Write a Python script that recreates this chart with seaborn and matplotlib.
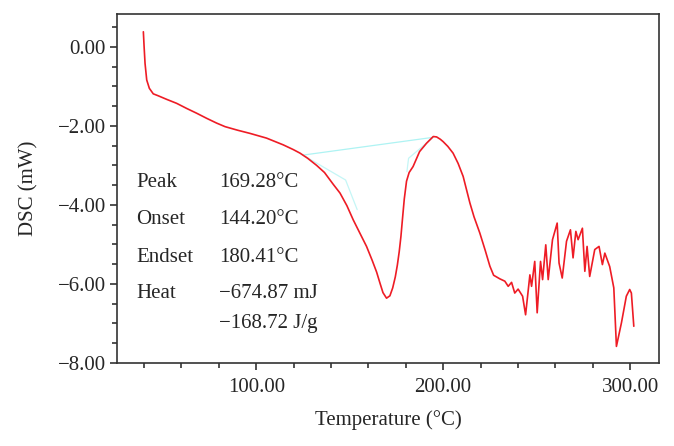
import matplotlib
matplotlib.use('Agg')

import matplotlib.pyplot as plt
from matplotlib.ticker import MultipleLocator, FuncFormatter
import seaborn as sns
import pandas as pd

# ── Data ───────────────────────────────────────────────────────────────────
temp = [
    39.6, 40.0, 40.5, 41.4, 42.8, 44.9, 47.6, 52.1, 57.4, 62.8,
    68.1, 73.5, 78.8, 83.3, 90.0, 96.6, 105.5, 114.4, 119.8, 123.4,
    127.5, 132.3, 136.5, 141.2, 144.8, 148.5, 151.9, 155.5, 159.0, 162.0,
    164.4, 166.2, 167.8, 169.7, 171.5, 173.0, 174.4, 175.5, 176.5, 177.4,
    178.3, 179.2, 180.4, 181.8, 183.9, 187.4, 191.1, 194.7, 196.5, 198.5,
    200.0, 202.5, 205.3, 208.0, 210.7, 214.3, 216.5, 219.6, 222.5, 225.0,
    227.0, 230.3, 233.0, 234.8, 236.6, 238.3, 240.1, 242.5, 244.1, 246.4,
    247.3, 249.0, 250.3, 252.1, 253.2, 254.9, 256.2, 258.5, 261.0, 262.0,
    263.7, 266.0, 268.1, 269.5, 271.0, 272.2, 274.5, 275.8, 277.0, 278.4,
    281.1, 283.4, 285.2, 286.5, 289.1, 291.3, 292.7, 295.4, 298.0, 299.8,
    300.7, 302.0,
]
dsc = [
    0.38, 0.00, -0.42, -0.84, -1.05, -1.19, -1.24, -1.33, -1.43, -1.56,
    -1.68, -1.81, -1.93, -2.02, -2.11, -2.19, -2.31, -2.48, -2.60, -2.69,
    -2.82, -3.00, -3.18, -3.48, -3.70, -4.02, -4.38, -4.72, -5.05, -5.40,
    -5.70, -5.98, -6.22, -6.36, -6.30, -6.10, -5.82, -5.52, -5.18, -4.80,
    -4.32, -3.85, -3.40, -3.18, -3.03, -2.65, -2.44, -2.27, -2.28, -2.34,
    -2.40, -2.52, -2.69, -2.95, -3.28, -3.95, -4.30, -4.71, -5.15, -5.55,
    -5.78, -5.87, -5.93, -6.06, -5.96, -6.23, -6.13, -6.31, -6.78, -5.77,
    -6.06, -5.43, -6.73, -5.43, -5.89, -5.01, -5.89, -4.88, -4.46, -5.47,
    -5.85, -4.92, -4.63, -5.34, -4.67, -4.88, -4.59, -5.68, -5.05, -5.81,
    -5.13, -5.05, -5.51, -5.22, -5.56, -6.10, -7.58, -6.98, -6.31, -6.14,
    -6.23, -7.07,
]

# baseline / tangent construction lines (cyan)
base_x = [125.0, 194.7]
base_y = [-2.74, -2.29]
onset_x = [125.0, 147.8, 154.0]
onset_y = [-2.74, -3.37, -4.12]
endset_x = [194.7, 181.5, 180.6]
endset_y = [-2.29, -2.82, -3.16]

info_keys = ["Peak", "Onset", "Endset", "Heat"]
info_vals = ["169.28°C", "144.20°C", "180.41°C", "\u2212674.87 mJ"]
heat_per_gram = "\u2212168.72 J/g"

df = pd.DataFrame({'Temperature': temp, 'DSC': dsc})

# ── Figure ─────────────────────────────────────────────────────────────────
sns.set_style('ticks')
plt.rcParams['font.family'] = ['Liberation Serif', 'DejaVu Serif']

fig = plt.figure(figsize=(6.74, 4.46), dpi=100)
ax = fig.add_axes([0.1736, 0.1861, 0.8042, 0.7825])

ax.plot(base_x, base_y, color='#aef3f3', lw=0.9)
ax.plot(onset_x, onset_y, color='#c4f6f6', lw=0.9)
ax.plot(endset_x, endset_y, color='#c4f6f6', lw=0.9)

sns.lineplot(
    data=df,
    x='Temperature',
    y='DSC',
    sort=False,
    estimator=None,
    color='#ee1c25',
    lw=1.2,
    ax=ax
)

ax.set_xlim(25.5, 315.5)
ax.set_ylim(-8.0, 0.83)

fmt = FuncFormatter(lambda v, p: f"{v:.2f}".replace('-', '\u2212'))

ax.xaxis.set_major_locator(MultipleLocator(100))
ax.xaxis.set_minor_locator(MultipleLocator(20))
ax.yaxis.set_major_locator(MultipleLocator(2))
ax.yaxis.set_minor_locator(MultipleLocator(0.5))
ax.xaxis.set_major_formatter(fmt)
ax.yaxis.set_major_formatter(fmt)

ax.tick_params(which='major', direction='out', length=5, width=1.1,
               color='#222222', labelsize=15, pad=3)
ax.tick_params(axis='x', which='major', pad=6)
ax.tick_params(which='minor', direction='out', length=3.5, width=1.1,
               color='#222222')

for s in ax.spines.values():
    s.set_visible(True)
    s.set_color('#333333')
    s.set_linewidth(1.2)

ax.set_xlabel("Temperature (°C)", fontsize=15, labelpad=9)
ax.set_ylabel("DSC (mW)", fontsize=15, labelpad=14)

# ── Annotation block ───────────────────────────────────────────────────────
y_rows = [182.5, 220.0, 257.5, 294.0]
for key, val, yp in zip(info_keys, info_vals, y_rows):
    fy = 1 - yp / 446
    fig.text(136 / 674, fy, key, fontsize=15, va='center', ha='left')
    fig.text(219 / 674, fy, val, fontsize=15, va='center', ha='left')

fig.text(219 / 674, 1 - 323.5 / 446, heat_per_gram, fontsize=15,
         va='center', ha='left')

plt.savefig('out.png', dpi=100)
plt.close()
